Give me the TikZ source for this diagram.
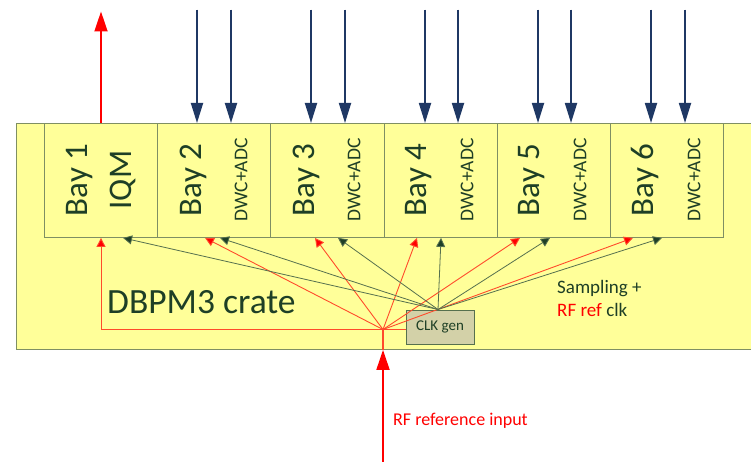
\documentclass[tikz,border=0pt]{standalone}
\usepackage{fontspec}
\setmainfont{Carlito}
\usetikzlibrary{arrows.meta}
\definecolor{cratefill}{HTML}{FFFF99}
\definecolor{edgecol}{HTML}{7F8F63}
\definecolor{txt}{HTML}{1E3F26}
\definecolor{navy}{HTML}{1F3864}
\definecolor{rfline}{HTML}{FF4B2B}
\definecolor{clkline}{HTML}{56704E}
\definecolor{clkhead}{HTML}{1E3F26}
\definecolor{clkfill}{HTML}{D3D1A8}
\tikzset{
  cratebox/.style={draw=edgecol, fill=cratefill, line width=0.9pt, anchor=north west, inner sep=0pt},
  baybox/.style={draw=edgecol, fill=cratefill, line width=0.9pt, anchor=north west, inner sep=0pt, minimum width=113.2pt, minimum height=114pt},
  baytext/.style={rotate=90, inner sep=0pt, text=txt, font=\fontsize{33}{33}\selectfont},
  subtext/.style={rotate=90, inner sep=0pt, text=txt, font=\fontsize{19.5}{19.5}\selectfont},
  bignavy/.style={draw=navy, line width=1.8pt, -{Triangle[length=20pt,width=12pt]}, fill=navy},
  bigred/.style={draw=red, line width=1.8pt, -{Triangle[length=20pt,width=13pt]}, fill=red},
  rfarrow/.style={draw=rfline, line width=0.9pt, -{Triangle[length=9pt,width=9pt,fill=red]}},
  clkarrow/.style={draw=clkline, line width=0.8pt, -{Triangle[length=9pt,width=9pt,fill=clkhead]}},
  clkbox/.style={draw=clkline, fill=clkfill, line width=0.9pt, minimum width=68pt, minimum height=34pt, inner sep=0pt, text=txt, font=\fontsize{15}{15}\selectfont},
}
\begin{document}
\begin{tikzpicture}[x=1pt,y=-1pt]
\useasboundingbox (0,0) rectangle (751,462);
\clip (0,0) rectangle (751,462);
\fill[white] (0,0) rectangle (751,462);
% crate
\node[cratebox, minimum width=760pt, minimum height=226pt] (crate) at (16,123) {};
% bays
\node[baybox] (bay1) at (44,123) {};
\node[baybox] (bay2) at (157.2,123) {};
\node[baybox] (bay3) at (270.4,123) {};
\node[baybox] (bay4) at (383.6,123) {};
\node[baybox] (bay5) at (496.8,123) {};
\node[baybox] (bay6) at (610,123) {};
% bay texts
\node[baytext] (t1) at (80,180) {Bay 1};
\node[baytext] (q1) at (123,180) {IQM};
\node[baytext] (t2) at (193,180) {Bay 2};
\node[subtext] (s2) at (241,180) {DWC+ADC};
\node[baytext] (t3) at (306,180) {Bay 3};
\node[subtext] (s3) at (354,180) {DWC+ADC};
\node[baytext] (t4) at (419,180) {Bay 4};
\node[subtext] (s4) at (467,180) {DWC+ADC};
\node[baytext] (t5) at (532,180) {Bay 5};
\node[subtext] (s5) at (580,180) {DWC+ADC};
\node[baytext] (t6) at (645,180) {Bay 6};
\node[subtext] (s6) at (694,180) {DWC+ADC};
% top arrows
\coordinate (o1) at (101,11.5);
\draw[bigred] (o1 |- bay1.north) -- (o1);
\foreach \n/\xa/\xb in {2/197/231,3/311/345,4/425/458,5/538/571,6/651/685}{
  \coordinate (ia\n) at (\xa,10);
  \coordinate (ib\n) at (\xb,10);
  \draw[bignavy] (ia\n) -- (ia\n |- bay\n.north);
  \draw[bignavy] (ib\n) -- (ib\n |- bay\n.north);
}
% CLK gen
\node[clkbox] (clk) at (440,327) {CLK gen};
\coordinate (src) at (438,309.5);
\coordinate (hub) at (383,329.5);
% RF input
\coordinate (rfin) at (383,462);
\draw[bigred] (rfin) -- (rfin |- crate.south);
\draw[rfline, line width=1.2pt] (rfin |- crate.south) -- (hub);
\draw[rfline, line width=0.9pt] (hub) -- (hub -| clk.west);
% RF ref fan-out
\coordinate (r1) at (101,329.5);
\draw[rfarrow] (hub) -- (r1) -- (r1 |- bay1.south);
\coordinate (r2) at (205,0);
\coordinate (r3) at (315,0);
\coordinate (r4) at (417,0);
\coordinate (r5) at (520,0);
\coordinate (r6) at (633,0);
\draw[rfarrow] (hub) -- (r2 |- bay2.south);
\draw[rfarrow] (hub) -- (r3 |- bay3.south);
\draw[rfarrow] (hub) -- (r4 |- bay4.south);
\draw[rfarrow] (hub) -- (r5 |- bay5.south);
\draw[rfarrow] (hub) -- (r6 |- bay6.south);
% sampling clock fan-out
\coordinate (g1) at (123,0);
\coordinate (g2) at (220,0);
\coordinate (g3) at (338,0);
\coordinate (g4) at (441,0);
\coordinate (g5) at (550,0);
\coordinate (g6) at (662,0);
\foreach \n in {1,...,6}{
  \draw[clkarrow] (src) -- (g\n |- bay\n.south);
}
% labels
\node[anchor=base west, inner sep=0pt, text=txt, font=\fontsize{35.5}{35.5}\selectfont] (lab) at (107,313) {DBPM3 crate};
\node[anchor=base west, inner sep=0pt, text=txt, font=\fontsize{19}{19}\selectfont] (samp) at (557,293) {Sampling +};
\node[anchor=base west, inner sep=0pt, text=txt, font=\fontsize{19}{19}\selectfont] (rfclk) at (557,316.5) {\textcolor{red}{RF ref} clk};
\node[anchor=base west, inner sep=0pt, text=red, font=\fontsize{18}{18}\selectfont] (rflab) at (393,425) {RF reference input};
\end{tikzpicture}
\end{document}
